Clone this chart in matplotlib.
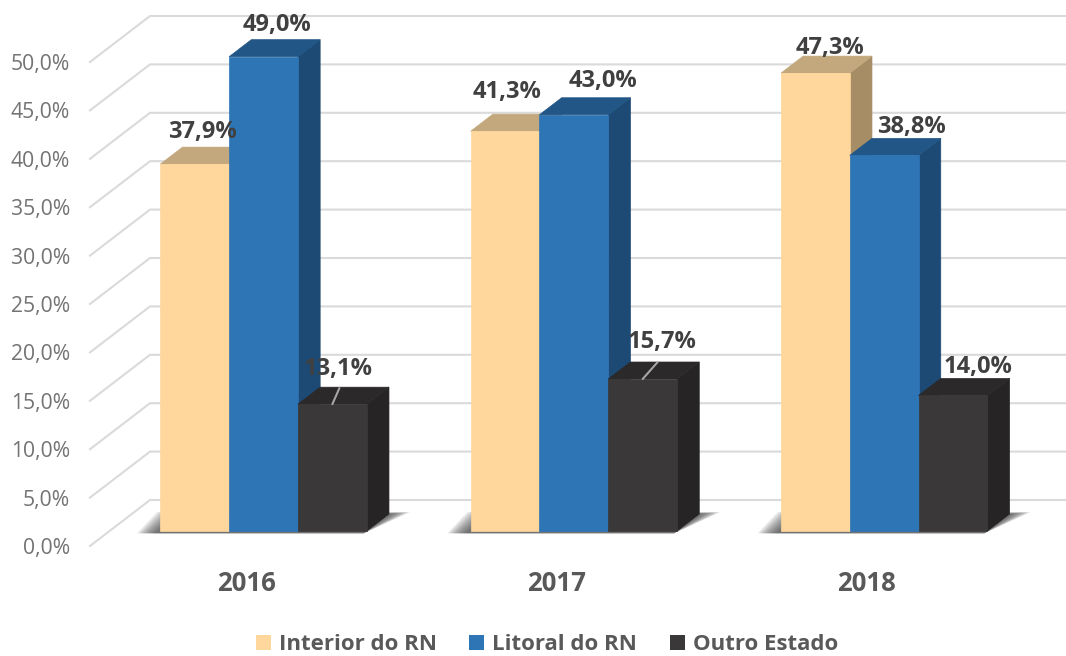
import matplotlib
matplotlib.use("Agg")
from matplotlib import pyplot as plt
from matplotlib.patches import Polygon, Patch
from matplotlib.transforms import ScaledTranslation

plt.rcParams['font.family'] = ['Open Sans', 'DejaVu Sans']

years = ['2016', '2017', '2018']
series_names = ['Interior do RN', 'Litoral do RN', 'Outro Estado']
interior = [37.9, 41.3, 47.3]
litoral = [49.0, 43.0, 38.8]
outro = [13.1, 15.7, 14.0]
y_ticks = [0, 5, 10, 15, 20, 25, 30, 35, 40, 45, 50]
y_tick_labels = ['0,0%', '5,0%', '10,0%', '15,0%', '20,0%', '25,0%',
                 '30,0%', '35,0%', '40,0%', '45,0%', '50,0%']

# front, top, side
peach = ('#FFD79C', '#C2A87C', '#A68D66')
blue = ('#2E75B6', '#215686', '#1C4A75')
dark = ('#3A3838', '#2B2929', '#262424')

# label offsets in pixels from the top centre of each front face
label_offsets = [[(8, 32), (13, 32), (6, 35)],
                 [(2, 39), (29, 34), (19, 37)],
                 [(15, 25), (27, 28), (25, 28)]]
leaders = {(0, 2): (7, 16), (1, 2): (15, 17)}

PX_X = 310.3          # pixels per category
PX_Y = 9.68           # pixels per percent
WALL_DX = 60 / PX_X   # depth of the wall in x units
WALL_DY = 46 / PX_Y   # depth of the wall in y units
BAR_W = 68.8 / PX_X
D_FRONT = 0.326
D_BACK = 0.696


def proj(x, v, d):
    return (x + d * WALL_DX, v + d * WALL_DY)


def face(ax, pts, color, z):
    ax.add_patch(Polygon(pts, closed=True, facecolor=color, edgecolor=color,
                         linewidth=0.5, zorder=z, clip_on=False))


def draw_bar(ax, x0, value, colors, z):
    x1 = x0 + BAR_W
    face(ax, [proj(x1, 0, D_FRONT), proj(x1, 0, D_BACK),
              proj(x1, value, D_BACK), proj(x1, value, D_FRONT)], colors[2], z)
    face(ax, [proj(x0, value, D_FRONT), proj(x1, value, D_FRONT),
              proj(x1, value, D_BACK), proj(x0, value, D_BACK)], colors[1], z)
    face(ax, [proj(x0, 0, D_FRONT), proj(x1, 0, D_FRONT),
              proj(x1, value, D_FRONT), proj(x0, value, D_FRONT)], colors[0], z)


def draw_shadow(ax, x0, x1):
    for k in range(10):
        grow = (10 - k) / 10
        pts = [proj(x0 - 0.065 * grow, 0, D_FRONT - 0.05),
               proj(x0 - 0.09 * grow, 0, D_BACK + 0.04 * grow),
               proj(x1 + 0.06 * grow, 0, D_BACK + 0.04 * grow),
               proj(x1, 0, D_FRONT - 0.05)]
        ax.add_patch(Polygon(pts, closed=True, facecolor='#404040', edgecolor='none',
                             alpha=0.12, zorder=2, clip_on=False))


fig = plt.figure(figsize=(10.66, 6.56), dpi=100)
ax = fig.add_axes([90 / 1066, (656 - 546) / 656, 976 / 1066, 484 / 656])
ax.set_xlim(-154 / PX_X, 822 / PX_X)
ax.set_ylim(0, 50)
for s in ax.spines.values():
    s.set_visible(False)

xmin, xmax = ax.get_xlim()
for v in y_ticks:
    p0 = proj(xmin, v, 0)
    p1 = proj(xmin, v, 1)
    ax.plot([p0[0], p1[0], xmax], [p0[1], p1[1], p1[1]], color='#DADADA', lw=1.5,
            zorder=1, clip_on=False, solid_joinstyle='miter')

ax.set_yticks(y_ticks)
ax.set_yticklabels(y_tick_labels, fontsize=15.2, color='#737373')
ax.tick_params(axis='y', length=0, pad=14.5)
ax.set_xticks(range(len(years)))
ax.set_xticklabels(years, fontsize=18.5, fontweight='bold', color='#595959')
ax.tick_params(axis='x', length=0, pad=17)
# year labels sit slightly right of the tick position
shift = ScaledTranslation(2 / 100, 0, fig.dpi_scale_trans)
for lab in ax.get_xticklabels():
    lab.set_transform(lab.get_transform() + shift)

all_series = [interior, litoral, outro]
all_colors = [peach, blue, dark]
for i in range(len(years)):
    left = i - 1.5 * BAR_W
    draw_shadow(ax, left, left + 3 * BAR_W)
    for j, (vals, colors) in enumerate(zip(all_series, all_colors)):
        x0 = left + j * BAR_W
        draw_bar(ax, x0, vals[i], colors, 3 + j)
        top = proj(x0 + BAR_W / 2, vals[i], D_FRONT)
        if (i, j) in leaders:
            ax.annotate('', xy=top, xytext=leaders[(i, j)], textcoords='offset pixels',
                        arrowprops=dict(arrowstyle='-', color='#A6A6A6', lw=1.5,
                                        shrinkA=0, shrinkB=0),
                        zorder=8, annotation_clip=False)
        ax.annotate(('%.1f%%' % vals[i]).replace('.', ','), xy=top,
                    xytext=label_offsets[i][j], textcoords='offset pixels',
                    ha='center', va='center', fontsize=17, fontweight='bold',
                    color='#404040', zorder=9, annotation_clip=False)

handles = [Patch(facecolor=c[0], edgecolor='none') for c in all_colors]
fig.legend(handles, series_names, loc='center', bbox_to_anchor=(547 / 1066, 11 / 656),
           ncol=3, frameon=False, handlelength=0.68, handleheight=0.68, handletextpad=0.36,
           columnspacing=1.45, prop={'size': 16, 'weight': 'bold'}, labelcolor='#595959')

fig.savefig('out.png', dpi=100)
